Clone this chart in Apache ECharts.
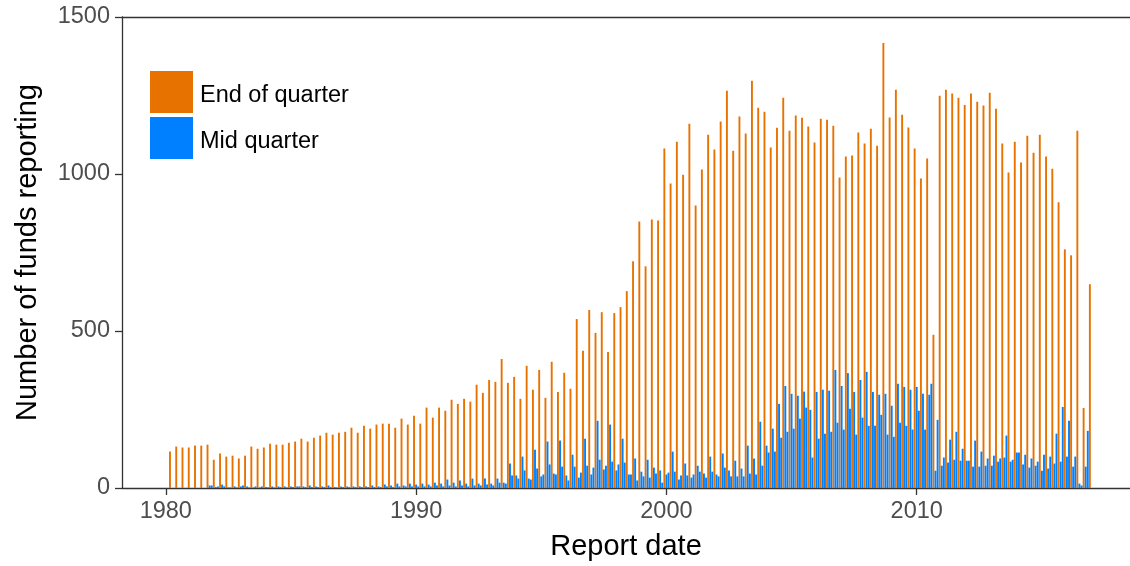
<!DOCTYPE html>
<html>
<head>
<meta charset="utf-8">
<script src="https://cdn.jsdelivr.net/npm/echarts@6/dist/echarts.min.js"></script>
<style>
  html, body { margin: 0; padding: 0; background: #ffffff; }
  #chart { width: 1130px; height: 566px; }
</style>
</head>
<body>
<div id="chart"></div>
<script>
// Fund reporting counts, one entry per calendar quarter starting 1980 Q1.
const firstYear = 1980;
const yearTicks = [1980, 1990, 2000, 2010];
const seriesNames = ['End of quarter', 'Mid quarter'];

// Funds reporting in the last month of each quarter (Mar, Jun, Sep, Dec)
const endOfQuarter = [
  116, 132, 129, 129, 135, 135, 138, 90, 110, 100,
  103, 94, 103, 132, 125, 129, 141, 138, 138, 144,
  148, 157, 148, 160, 167, 176, 170, 176, 179, 192,
  176, 198, 189, 202, 205, 205, 192, 221, 202, 230,
  205, 256, 224, 256, 246, 281, 268, 284, 275, 329,
  303, 344, 338, 411, 335, 354, 284, 389, 313, 376,
  287, 402, 306, 367, 316, 538, 437, 567, 494, 560,
  433, 557, 576, 627, 722, 849, 706, 855, 852, 1081,
  970, 1103, 998, 1160, 900, 1014, 1125, 1078, 1167, 1265,
  1074, 1183, 1129, 1297, 1211, 1198, 1084, 1147, 1243, 1138,
  1186, 1179, 1151, 1100, 1176, 1173, 1154, 989, 1056, 1059,
  1132, 1097, 1144, 1090, 1417, 1180, 1268, 1189, 1148, 1081,
  986, 1049, 488, 1249, 1268, 1256, 1243, 1220, 1256, 1230,
  1218, 1259, 1208, 1097, 1005, 1103, 1037, 1122, 1068, 1125,
  1056, 1017, 910, 760, 741, 1138, 255, 649
];

// Funds reporting in the first month of each quarter (Jan, Apr, Jul, Oct)
const midQuarterFirst = [
  null, null, null, null, null, null, null, 8, 3, 11,
  2, 5, 5, 5, 2, 2, 3, 5, 5, 5,
  5, 5, 5, 8, 5, 5, 8, 3, 5, 5,
  5, 5, 5, 8, 5, 11, 8, 14, 8, 14,
  11, 14, 11, 17, 14, 27, 17, 24, 14, 30,
  14, 30, 14, 30, 17, 78, 40, 100, 30, 122,
  37, 148, 46, 151, 40, 106, 33, 157, 43, 214,
  59, 202, 56, 157, 43, 94, 52, 90, 65, 56,
  43, 116, 27, 78, 33, 71, 46, 100, 43, 110,
  56, 87, 62, 135, 94, 211, 135, 189, 268, 325,
  300, 294, 307, 249, 306, 313, 310, 376, 325, 366,
  306, 344, 370, 306, 297, 300, 262, 332, 322, 313,
  322, 300, 297, 55, 71, 81, 90, 87, 87, 68,
  68, 71, 71, 84, 97, 84, 113, 75, 65, 71,
  55, 62, 78, 84, 100, 68, 14, 68
];

// Funds reporting in the second month of each quarter (Feb, May, Aug, Nov)
const midQuarterSecond = [
  null, null, null, null, null, null, null, 8, 5, 5,
  2, 2, 8, 2, 5, 5, 2, 2, 3, 2,
  3, 5, 3, 3, 3, 3, 3, 2, 3, 3,
  3, 3, 3, 3, 3, 5, 3, 5, 5, 5,
  5, 5, 5, 8, 5, 8, 5, 8, 5, 8,
  8, 11, 8, 17, 14, 40, 30, 56, 27, 62,
  43, 75, 43, 68, 24, 68, 49, 71, 65, 90,
  71, 84, 75, 81, 43, 24, 37, 33, 46, 17,
  49, 52, 40, 40, 43, 52, 33, 52, 37, 65,
  37, 37, 37, 46, 43, 71, 113, 116, 160, 179,
  189, 221, 256, 97, 157, 173, 179, 208, 186, 252,
  170, 224, 198, 198, 233, 170, 163, 208, 198, 186,
  246, 186, 332, 217, 97, 154, 179, 125, 87, 151,
  116, 94, 103, 94, 167, 90, 113, 106, 94, 84,
  106, 100, 173, 258, 214, 100, 8, 182
];

const orange = '#E87200';
const blue = '#0080FF';
const font = '"Liberation Sans", Arial, Helvetica, sans-serif';

// Report dates fall on the first of the month; place each month on a decimal-year scale.
function monthPosition(monthIndex) {
  return firstYear + monthIndex / 12;
}

const endData = endOfQuarter.map((v, q) => [monthPosition(3 * q + 2), v]);
const midData = [];
midQuarterFirst.forEach((v, q) => {
  if (v != null) midData.push([monthPosition(3 * q), v]);
  const w = midQuarterSecond[q];
  if (w != null) midData.push([monthPosition(3 * q + 1), w]);
});

const axisColor = '#333333';
const xMin = 1978.25, xMax = 2018.52;

const chart = echarts.init(document.getElementById('chart'), null, { renderer: 'canvas' });
chart.setOption({
  animation: false,
  backgroundColor: '#ffffff',
  textStyle: { fontFamily: font },
  grid: { left: 122, right: 0, top: 17, bottom: 76.5, containLabel: false },
  legend: {
    orient: 'vertical',
    left: 150,
    top: 71,
    padding: 0,
    itemWidth: 43,
    itemHeight: 42,
    itemGap: 4,
    icon: 'rect',
    data: seriesNames,
    formatter: name => '{t|' + name + '}',
    textStyle: {
      fontSize: 23.5,
      color: '#000000',
      fontFamily: font,
      rich: {
        t: { fontSize: 23.5, color: '#000000', fontFamily: font, padding: [8, 0, 0, 2] }
      }
    }
  },
  xAxis: [
    {
      type: 'value',
      min: xMin,
      max: xMax,
      splitLine: { show: false },
      axisLine: { show: true, onZero: false, lineStyle: { color: axisColor, width: 1.3 } },
      axisTick: { show: true, customValues: yearTicks, length: 7, lineStyle: { color: axisColor, width: 1.3 } },
      axisLabel: {
        customValues: yearTicks,
        color: '#4D4D4D',
        fontSize: 23.5,
        fontFamily: font,
        margin: 12,
        formatter: v => String(Math.round(v))
      },
      name: 'Report date',
      nameLocation: 'middle',
      nameGap: 44,
      nameTextStyle: { fontSize: 29, color: '#000000', fontFamily: font }
    },
    {
      type: 'value',
      position: 'top',
      min: xMin,
      max: xMax,
      splitLine: { show: false },
      axisLine: { show: true, onZero: false, lineStyle: { color: axisColor, width: 1.3 } },
      axisTick: { show: false },
      axisLabel: { show: false }
    }
  ],
  yAxis: {
    type: 'value',
    min: 0,
    max: 1500,
    interval: 500,
    splitLine: { show: false },
    axisLine: { show: true, lineStyle: { color: axisColor, width: 1.3 } },
    axisTick: { show: true, length: 7, lineStyle: { color: axisColor, width: 1.3 } },
    axisLabel: {
      color: '#4D4D4D',
      fontSize: 23.5,
      fontFamily: font,
      margin: 12,
      formatter: v => String(Math.round(v))
    },
    name: 'Number of funds reporting',
    nameLocation: 'middle',
    nameGap: 80,
    nameRotate: 90,
    nameTextStyle: { fontSize: 29, color: '#000000', fontFamily: font }
  },
  series: [
    {
      name: seriesNames[0],
      type: 'bar',
      xAxisIndex: 0,
      data: endData,
      barWidth: 1.9,
      barGap: '-100%',
      itemStyle: { color: orange },
      emphasis: { disabled: true }
    },
    {
      name: seriesNames[1],
      type: 'bar',
      xAxisIndex: 0,
      data: midData,
      barWidth: 1.9,
      barGap: '-100%',
      itemStyle: { color: blue },
      emphasis: { disabled: true }
    }
  ]
});
</script>
</body>
</html>
